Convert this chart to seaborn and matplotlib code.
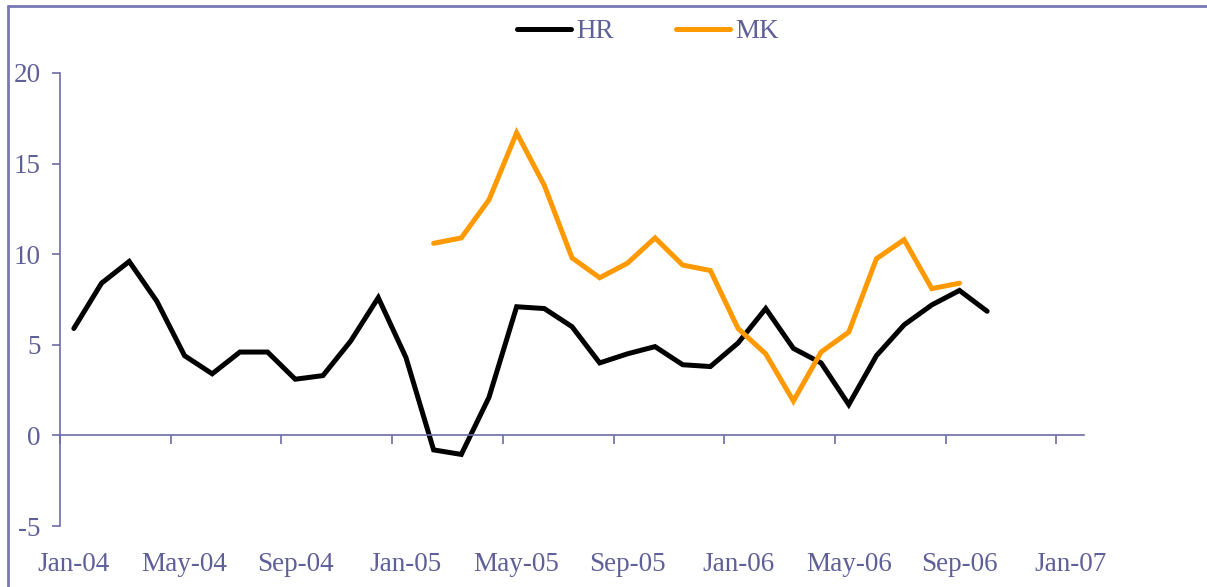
import numpy as np
import pandas as pd
import matplotlib
matplotlib.use("Agg")
import matplotlib.pyplot as plt
import seaborn as sns

# Data (monthly, Jan-04 .. Jan-07)
months = pd.date_range("2004-01-01", "2007-01-01", freq="MS")
month_labels = [m.strftime("%b-%y") for m in months]

hr = [5.9, 8.4, 9.6, 7.4, 4.4, 3.4, 4.6, 4.6, 3.1, 3.3, 5.2, 7.6,
      4.3, -0.8, -1.05, 2.1, 7.1, 7.0, 6.0, 4.0, 4.5, 4.9, 3.9, 3.8,
      5.1, 7.0, 4.8, 4.0, 1.7, 4.4, 6.1, 7.2, 8.0, 6.85]
mk = [10.6, 10.9, 13.0, 16.7, 13.8, 9.8, 8.7, 9.5, 10.9, 9.4, 9.1,
      5.9, 4.5, 1.9, 4.6, 5.7, 9.75, 10.8, 8.1, 8.4]
mk_start = 13  # Feb-05

n = len(months)
df = pd.DataFrame({"pos": np.arange(n), "month": month_labels})
df["HR"] = hr + [np.nan] * (n - len(hr))
df["MK"] = [np.nan] * mk_start + mk + [np.nan] * (n - mk_start - len(mk))

axis_col = "#6C6CA8"
text_col = "#5F5F99"

sns.set_style("white")
plt.rcParams["font.family"] = ["Liberation Serif", "DejaVu Serif"]
plt.rcParams["font.size"] = 19.5

fig = plt.figure(figsize=(12.07, 5.87), dpi=100)
ax = fig.add_axes([60 / 1207, 61 / 587, 1024 / 1207, 453 / 587])

sns.lineplot(data=df, x="pos", y="HR", ax=ax, color="black", lw=3.6,
             label="HR", solid_joinstyle="miter")
sns.lineplot(data=df, x="pos", y="MK", ax=ax, color="#FF9900", lw=3.6,
             label="MK", solid_joinstyle="miter")

ax.set_xlim(-0.5, n - 0.5)
ax.set_ylim(-5, 20)
ax.set_xlabel("")
ax.set_ylabel("")

for s in ["top", "right"]:
    ax.spines[s].set_visible(False)
ax.spines["left"].set_color(axis_col)
ax.spines["left"].set_linewidth(1.2)
ax.spines["bottom"].set_color(axis_col)
ax.spines["bottom"].set_linewidth(1.2)
ax.spines["bottom"].set_position(("data", 0))

ax.set_yticks([-5, 0, 5, 10, 15, 20])
ax.set_yticklabels(["-5", "0", "5", "10", "15", "20"])
ax.tick_params(axis="y", direction="out", length=6, width=1.2, color=axis_col,
               labelcolor=text_col, pad=8, left=True)

ax.set_xticks(df["pos"][::4])
ax.set_xticklabels(df["month"][::4])
ax.set_xticks(np.arange(-0.5, n - 1, 4), minor=True)
ax.tick_params(axis="x", which="major", length=0, labelcolor=text_col, pad=84)
ax.tick_params(axis="x", which="minor", direction="out", length=6.5, width=1.2,
               color=axis_col, bottom=True)

leg = ax.legend(loc="center", bbox_to_anchor=(648 / 1207, 1 - 32 / 587),
                bbox_transform=fig.transFigure, ncol=2, frameon=False,
                handlelength=2.0, handletextpad=0.2, columnspacing=2.3)
for t in leg.get_texts():
    t.set_color(text_col)

# outer chart border (top and left)
fig.add_artist(plt.Line2D([8 / 1207, 8 / 1207], [0, 1 - 6 / 587],
                          transform=fig.transFigure, color="#7878B4", lw=2))
fig.add_artist(plt.Line2D([8 / 1207, 1], [1 - 6 / 587, 1 - 6 / 587],
                          transform=fig.transFigure, color="#7878B4", lw=2))

fig.savefig("out.png", dpi=100)
